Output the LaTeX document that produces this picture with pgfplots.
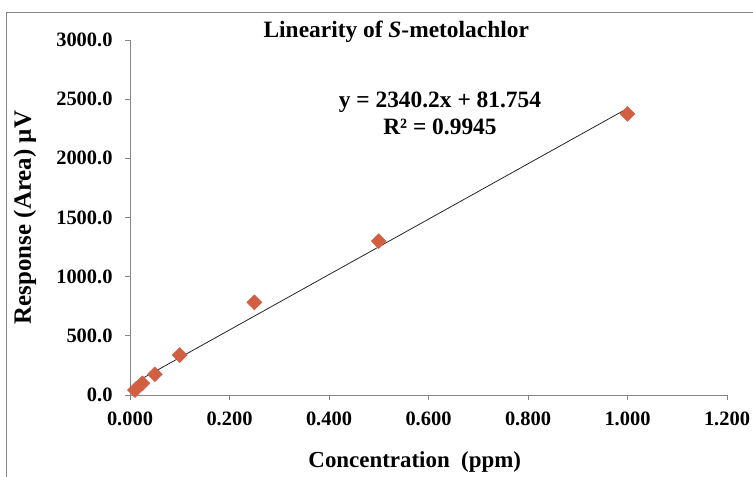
\documentclass[border=0pt]{standalone}
\usepackage{fontspec}
\setmainfont{Liberation Serif}
\usepackage{pgfplots}
\pgfplotsset{compat=1.18}
\definecolor{pt}{RGB}{210,95,65}
\definecolor{ax}{RGB}{134,134,134}
\newcommand{\cf}{\fontsize{20.5}{27}\selectfont\bfseries}
\newcommand{\lf}{\fontsize{23.5}{27}\selectfont\bfseries}
\begin{document}
\begin{tikzpicture}
\begin{axis}[at={(130bp,-395bp)},anchor=south west,scale only axis,
  width=597bp,height=355bp,
  xmin=0,xmax=1.2,ymin=0,ymax=3000,
  xtick={0,0.2,0.4,0.6,0.8,1.0,1.2},ytick={0,500,1000,1500,2000,2500,3000},
  axis x line*=bottom,axis y line*=left,
  axis line style={ax,line width=0.8bp},
  tick align=outside,major tick length=5bp,tick style={ax,line width=0.8bp},
  tick label style={font=\cf},
  xticklabel style={yshift=-8bp,/pgf/number format/.cd,fixed,fixed zerofill,precision=3,assume math mode=true},
  yticklabel style={xshift=-9bp,/pgf/number format/.cd,fixed,fixed zerofill,precision=1,1000 sep={},assume math mode=true},
  title={Linearity of \textit{S}-metolachlor},
  title style={font=\lf,at={(axis description cs:0.446,1.006)},anchor=center},
  xlabel={Concentration\ \ (ppm)},
  xlabel style={font=\fontsize{23}{27}\selectfont\bfseries,at={(axis description cs:0.477,-0.189)},anchor=center},
  ylabel={Response (Area) µV},
  ylabel style={font=\fontsize{25}{27}\selectfont\bfseries,at={(axis description cs:-0.176,0.5)},anchor=center},
  clip=false]
\addplot[only marks,mark=square*,mark size=5.3bp,mark options={rotate=45,fill=pt,draw=pt}]
  coordinates {(0.01,42) (0.025,99) (0.05,175) (0.1,338) (0.25,783) (0.5,1300) (1.0,2375)};
\addplot[black!85,line width=0.8bp] coordinates {(0.01,105.16) (1.0,2421.95)};
\node[align=center,font=\lf] at (axis cs:0.623,2380) {y = 2340.2x + 81.754\\R² = 0.9945};
\end{axis}
\draw[ax,line width=1bp] (6bp,-477bp) -- (6bp,-12bp) -- (753bp,-12bp);
\pgfresetboundingbox
\path[use as bounding box] (0bp,0bp) rectangle (753bp,-477bp);
\end{tikzpicture}
\end{document}
